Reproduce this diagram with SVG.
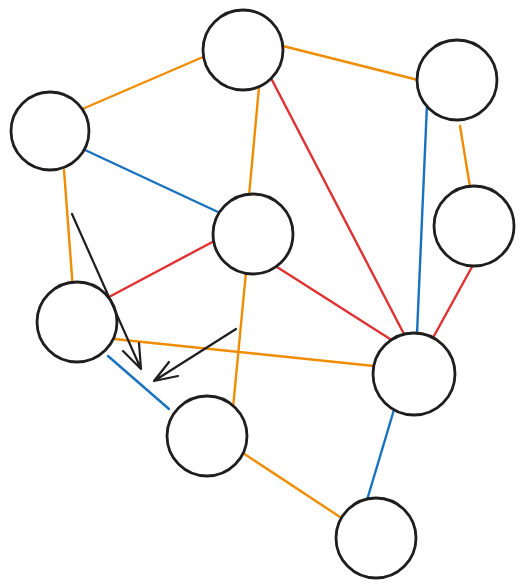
<svg xmlns="http://www.w3.org/2000/svg" width="524" height="587" viewBox="0 0 524 587">
<style>
.n{fill:#fff;stroke:#1e1e1e;stroke-width:2.8}
.e{fill:none;stroke-width:2.4;stroke-linecap:round}
.o{stroke:#f08c00}.b{stroke:#1971c2}.r{stroke:#e03131}
.a{fill:none;stroke:#1e1e1e;stroke-width:2.2;stroke-linecap:round;stroke-linejoin:round}
</style>
<rect width="524" height="587" fill="#fff"/>
<g id="connectors">
<line class="e o" x1="203" y1="57" x2="80" y2="110"/>
<line class="e o" x1="283" y1="46" x2="418" y2="80"/>
<line class="e o" x1="259" y1="87" x2="249" y2="196"/>
<line class="e r" x1="272" y1="80" x2="405" y2="336"/>
<line class="e b" x1="427" y1="104" x2="417" y2="334"/>
<line class="e o" x1="460" y1="126" x2="470" y2="187"/>
<line class="e b" x1="85" y1="150" x2="218" y2="212"/>
<line class="e o" x1="64" y1="170" x2="73" y2="290"/>
<line class="e r" x1="109" y1="297" x2="218" y2="239"/>
<line class="e r" x1="277" y1="267" x2="390" y2="339"/>
<line class="e r" x1="473" y1="265" x2="434" y2="336"/>
<line class="e o" x1="114" y1="339" x2="374" y2="366"/>
<line class="e b" x1="108" y1="356" x2="169" y2="409"/>
<line class="e o" x1="246" y1="272" x2="233" y2="408"/>
<line class="e o" x1="243" y1="453" x2="340" y2="517"/>
<line class="e b" x1="396" y1="403" x2="367" y2="500"/>
</g>
<g id="node1"><circle class="n" cx="243" cy="50" r="40"/></g>
<g id="node2"><circle class="n" cx="457" cy="80" r="40"/></g>
<g id="node3"><circle class="n" cx="50" cy="131" r="39"/></g>
<g id="node4"><circle class="n" cx="474" cy="226" r="40"/></g>
<g id="node5"><circle class="n" cx="253" cy="234" r="40"/></g>
<g id="node6"><circle class="n" cx="77" cy="322" r="40"/></g>
<g id="node7"><circle class="n" cx="414" cy="374" r="41"/></g>
<g id="node8"><circle class="n" cx="207" cy="436" r="40"/></g>
<g id="node9"><circle class="n" cx="376" cy="538" r="40"/></g>
<g id="arrows">
<path class="a" d="M72 214 L141 369 M123 351 L141 369 L139 343"/>
<path class="a" d="M236 329 L154 381 M169 362 L154 381 L178 376"/>
</g>
</svg>
